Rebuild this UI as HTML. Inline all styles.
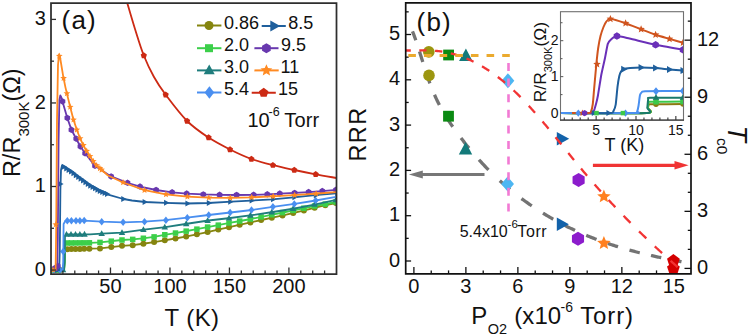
<!DOCTYPE html>
<html><head><meta charset="utf-8"><style>
html,body{margin:0;padding:0;background:#fff;}
body{width:750px;height:336px;overflow:hidden;font-family:"Liberation Sans",sans-serif;}
svg{display:block;}
</style></head><body>
<svg width="750" height="336" viewBox="0 0 750 336" font-family="Liberation Sans, sans-serif">
<rect width="750" height="336" fill="#fff"/>
<defs><clipPath id="ca"><rect x="51" y="3" width="285.5" height="271"/></clipPath></defs>
<g clip-path="url(#ca)">
<path d="M51.5 270 L64 270 L64.6 262 L65 250.5 L66.5 249.2 L90 248.7 L100 248.4 L122 245.8 L132.5 245.2 L143 243.75 L154 242.1 L164.4 240.4 L175.2 238.5 L185.6 236.6 L196.7 234.4 L207.5 232.1 L218 229.6 L229.5 227.1 L240.2 224.6 L250.9 222.3 L261.6 220 L272.3 217.7 L283 215.4 L293.75 212.9 L304.5 210.3 L315.2 207.7 L325.9 205.1 L336 203" fill="none" stroke="#85850f" stroke-width="1.8" stroke-linejoin="round"/>
<circle cx="55" cy="270" r="3" fill="#85850f"/>
<circle cx="60" cy="270" r="3" fill="#85850f"/>
<circle cx="67.3" cy="249.18" r="3" fill="#85850f"/>
<circle cx="71.4" cy="249.1" r="3" fill="#85850f"/>
<circle cx="75.5" cy="249.01" r="3" fill="#85850f"/>
<circle cx="79.9" cy="248.91" r="3" fill="#85850f"/>
<circle cx="84.2" cy="248.82" r="3" fill="#85850f"/>
<circle cx="89.4" cy="248.71" r="3" fill="#85850f"/>
<circle cx="100" cy="248.4" r="3" fill="#85850f"/>
<circle cx="111.3" cy="247.06" r="3" fill="#85850f"/>
<circle cx="122" cy="245.8" r="3" fill="#85850f"/>
<circle cx="132.7" cy="245.17" r="3" fill="#85850f"/>
<circle cx="143.4" cy="243.69" r="3" fill="#85850f"/>
<circle cx="154.1" cy="242.08" r="3" fill="#85850f"/>
<circle cx="164.8" cy="240.33" r="3" fill="#85850f"/>
<circle cx="175.5" cy="238.45" r="3" fill="#85850f"/>
<circle cx="186.2" cy="236.48" r="3" fill="#85850f"/>
<circle cx="196.9" cy="234.36" r="3" fill="#85850f"/>
<circle cx="207.6" cy="232.08" r="3" fill="#85850f"/>
<circle cx="218.3" cy="229.53" r="3" fill="#85850f"/>
<circle cx="229" cy="227.21" r="3" fill="#85850f"/>
<circle cx="239.7" cy="224.72" r="3" fill="#85850f"/>
<circle cx="250.4" cy="222.41" r="3" fill="#85850f"/>
<circle cx="261.1" cy="220.11" r="3" fill="#85850f"/>
<circle cx="271.8" cy="217.81" r="3" fill="#85850f"/>
<circle cx="282.5" cy="215.51" r="3" fill="#85850f"/>
<circle cx="293.2" cy="213.03" r="3" fill="#85850f"/>
<circle cx="303.9" cy="210.45" r="3" fill="#85850f"/>
<circle cx="314.6" cy="207.85" r="3" fill="#85850f"/>
<circle cx="325.3" cy="205.25" r="3" fill="#85850f"/>
<circle cx="336" cy="203" r="3" fill="#85850f"/>
<path d="M51.5 270 L64.2 270 L64.8 262 L65.2 244 L66.5 243 L90 242.8 L100 242.4 L122 240 L132.5 239.4 L143 238.3 L154 236.9 L164.4 234.8 L175.2 233.1 L185.6 231.25 L196.7 229.2 L207.5 227.1 L218 225.2 L229.5 222.9 L240.2 221 L250.9 219 L261.6 216.8 L272.3 214.6 L283 212.5 L293.75 210.3 L304.5 208.1 L315.2 205.9 L325.9 204 L336 202" fill="none" stroke="#3ccf4a" stroke-width="1.8" stroke-linejoin="round"/>
<rect x="50.25" y="267.25" width="5.5" height="5.5" fill="#3ccf4a"/>
<rect x="55.25" y="267.25" width="5.5" height="5.5" fill="#3ccf4a"/>
<rect x="64.55" y="240.24" width="5.5" height="5.5" fill="#3ccf4a"/>
<rect x="68.65" y="240.21" width="5.5" height="5.5" fill="#3ccf4a"/>
<rect x="72.75" y="240.17" width="5.5" height="5.5" fill="#3ccf4a"/>
<rect x="77.15" y="240.14" width="5.5" height="5.5" fill="#3ccf4a"/>
<rect x="81.45" y="240.1" width="5.5" height="5.5" fill="#3ccf4a"/>
<rect x="86.65" y="240.06" width="5.5" height="5.5" fill="#3ccf4a"/>
<rect x="97.25" y="239.65" width="5.5" height="5.5" fill="#3ccf4a"/>
<rect x="108.55" y="238.42" width="5.5" height="5.5" fill="#3ccf4a"/>
<rect x="119.25" y="237.25" width="5.5" height="5.5" fill="#3ccf4a"/>
<rect x="129.95" y="236.63" width="5.5" height="5.5" fill="#3ccf4a"/>
<rect x="140.65" y="235.5" width="5.5" height="5.5" fill="#3ccf4a"/>
<rect x="151.35" y="234.13" width="5.5" height="5.5" fill="#3ccf4a"/>
<rect x="162.05" y="231.99" width="5.5" height="5.5" fill="#3ccf4a"/>
<rect x="172.75" y="230.3" width="5.5" height="5.5" fill="#3ccf4a"/>
<rect x="183.45" y="228.39" width="5.5" height="5.5" fill="#3ccf4a"/>
<rect x="194.15" y="226.41" width="5.5" height="5.5" fill="#3ccf4a"/>
<rect x="204.85" y="224.33" width="5.5" height="5.5" fill="#3ccf4a"/>
<rect x="215.55" y="222.39" width="5.5" height="5.5" fill="#3ccf4a"/>
<rect x="226.25" y="220.25" width="5.5" height="5.5" fill="#3ccf4a"/>
<rect x="236.95" y="218.34" width="5.5" height="5.5" fill="#3ccf4a"/>
<rect x="247.65" y="216.34" width="5.5" height="5.5" fill="#3ccf4a"/>
<rect x="258.35" y="214.15" width="5.5" height="5.5" fill="#3ccf4a"/>
<rect x="269.05" y="211.95" width="5.5" height="5.5" fill="#3ccf4a"/>
<rect x="279.75" y="209.85" width="5.5" height="5.5" fill="#3ccf4a"/>
<rect x="290.45" y="207.66" width="5.5" height="5.5" fill="#3ccf4a"/>
<rect x="301.15" y="205.47" width="5.5" height="5.5" fill="#3ccf4a"/>
<rect x="311.85" y="203.27" width="5.5" height="5.5" fill="#3ccf4a"/>
<rect x="322.55" y="201.36" width="5.5" height="5.5" fill="#3ccf4a"/>
<rect x="333.25" y="199.25" width="5.5" height="5.5" fill="#3ccf4a"/>
<path d="M51.5 270 L64 270 L64.6 262 L65 236 L66.5 234.5 L90 234.3 L101.7 233.7 L122 232.7 L144 229.6 L165.4 227.2 L187 223.75 L208.5 220.5 L230.4 218 L251.8 215.2 L272.9 212 L294.6 208.5 L315.7 204.3 L336 199.8" fill="none" stroke="#1f7d7d" stroke-width="1.8" stroke-linejoin="round"/>
<path d="M56 266.49 L59.25 272.34 L52.75 272.34Z" fill="#1f7d7d"/>
<path d="M63 266.49 L66.25 272.34 L59.75 272.34Z" fill="#1f7d7d"/>
<path d="M66.5 230.99 L69.75 236.84 L63.25 236.84Z" fill="#1f7d7d"/>
<path d="M71 230.95 L74.25 236.8 L67.75 236.8Z" fill="#1f7d7d"/>
<path d="M75.5 230.91 L78.75 236.76 L72.25 236.76Z" fill="#1f7d7d"/>
<path d="M79.9 230.88 L83.15 236.73 L76.65 236.73Z" fill="#1f7d7d"/>
<path d="M84.5 230.84 L87.75 236.69 L81.25 236.69Z" fill="#1f7d7d"/>
<path d="M101.7 230.19 L104.95 236.04 L98.45 236.04Z" fill="#1f7d7d"/>
<path d="M122 229.19 L125.25 235.04 L118.75 235.04Z" fill="#1f7d7d"/>
<path d="M143.4 226.17 L146.65 232.02 L140.15 232.02Z" fill="#1f7d7d"/>
<path d="M164.8 223.76 L168.05 229.61 L161.55 229.61Z" fill="#1f7d7d"/>
<path d="M186.2 220.37 L189.45 226.22 L182.95 226.22Z" fill="#1f7d7d"/>
<path d="M207.6 217.13 L210.85 222.98 L204.35 222.98Z" fill="#1f7d7d"/>
<path d="M229 214.65 L232.25 220.5 L225.75 220.5Z" fill="#1f7d7d"/>
<path d="M250.4 211.87 L253.65 217.72 L247.15 217.72Z" fill="#1f7d7d"/>
<path d="M271.8 208.66 L275.05 214.51 L268.55 214.51Z" fill="#1f7d7d"/>
<path d="M293.2 205.22 L296.45 211.07 L289.95 211.07Z" fill="#1f7d7d"/>
<path d="M314.6 201.01 L317.85 206.86 L311.35 206.86Z" fill="#1f7d7d"/>
<path d="M336 196.29 L339.25 202.14 L332.75 202.14Z" fill="#1f7d7d"/>
<path d="M51.5 270 L62.6 270 L63.2 262 L63.6 224 L65.5 220.8 L84.2 220.6 L101.7 221.7 L123.1 222.3 L144 221.7 L165.4 220.2 L187.1 217.7 L208.5 215 L230.4 212.5 L251.8 210 L272.9 206.8 L294.6 203.9 L315.7 200.5 L336 196.8" fill="none" stroke="#4a8ff0" stroke-width="1.8" stroke-linejoin="round"/>
<path d="M54 266.25 L57 270 L54 273.75 L51 270Z" fill="#4a8ff0"/>
<path d="M60 266.25 L63 270 L60 273.75 L57 270Z" fill="#4a8ff0"/>
<path d="M63.2 247.75 L66.2 251.5 L63.2 255.25 L60.2 251.5Z" fill="#4a8ff0"/>
<path d="M67.3 217.03 L70.3 220.78 L67.3 224.53 L64.3 220.78Z" fill="#4a8ff0"/>
<path d="M71.4 216.99 L74.4 220.74 L71.4 224.49 L68.4 220.74Z" fill="#4a8ff0"/>
<path d="M76 216.94 L79 220.69 L76 224.44 L73 220.69Z" fill="#4a8ff0"/>
<path d="M79.9 216.9 L82.9 220.65 L79.9 224.4 L76.9 220.65Z" fill="#4a8ff0"/>
<path d="M84.2 216.85 L87.2 220.6 L84.2 224.35 L81.2 220.6Z" fill="#4a8ff0"/>
<path d="M101.7 217.95 L104.7 221.7 L101.7 225.45 L98.7 221.7Z" fill="#4a8ff0"/>
<path d="M123.1 218.55 L126.1 222.3 L123.1 226.05 L120.1 222.3Z" fill="#4a8ff0"/>
<path d="M144.5 217.91 L147.5 221.66 L144.5 225.41 L141.5 221.66Z" fill="#4a8ff0"/>
<path d="M165.9 216.39 L168.9 220.14 L165.9 223.89 L162.9 220.14Z" fill="#4a8ff0"/>
<path d="M187.3 213.92 L190.3 217.67 L187.3 221.42 L184.3 217.67Z" fill="#4a8ff0"/>
<path d="M208.7 211.23 L211.7 214.98 L208.7 218.73 L205.7 214.98Z" fill="#4a8ff0"/>
<path d="M230.1 208.78 L233.1 212.53 L230.1 216.28 L227.1 212.53Z" fill="#4a8ff0"/>
<path d="M251.5 206.29 L254.5 210.04 L251.5 213.79 L248.5 210.04Z" fill="#4a8ff0"/>
<path d="M272.9 203.05 L275.9 206.8 L272.9 210.55 L269.9 206.8Z" fill="#4a8ff0"/>
<path d="M294.3 200.19 L297.3 203.94 L294.3 207.69 L291.3 203.94Z" fill="#4a8ff0"/>
<path d="M315.7 196.75 L318.7 200.5 L315.7 204.25 L312.7 200.5Z" fill="#4a8ff0"/>
<path d="M51.5 270 L59.2 270 L59.8 250 L60.4 190 L61 170 L62 165.5 L66 168.2 L71 171.4 L80.6 178.6 L90.1 185.5 L99.6 190.8 L109 194.8 L123.4 199 L132 200.5 L145 202 L165 202.8 L186.7 203.5 L208.3 203 L231.7 201.6 L250.9 200.6 L272.3 199.3 L293.75 197.4 L315.2 195.2 L336 193.3" fill="none" stroke="#1f5f9c" stroke-width="1.8" stroke-linejoin="round"/>
<path d="M60.24 270 L54.84 267 L54.84 273Z" fill="#1f5f9c"/>
<path d="M63.64 184 L58.24 181 L58.24 187Z" fill="#1f5f9c"/>
<path d="M67.24 166.85 L61.84 163.85 L61.84 169.85Z" fill="#1f5f9c"/>
<path d="M69.64 168.46 L64.24 165.46 L64.24 171.46Z" fill="#1f5f9c"/>
<path d="M72.04 169.99 L66.64 166.99 L66.64 172.99Z" fill="#1f5f9c"/>
<path d="M74.44 171.55 L69.04 168.55 L69.04 174.55Z" fill="#1f5f9c"/>
<path d="M76.84 173.35 L71.44 170.35 L71.44 176.35Z" fill="#1f5f9c"/>
<path d="M79.24 175.15 L73.84 172.15 L73.84 178.15Z" fill="#1f5f9c"/>
<path d="M81.64 176.95 L76.24 173.95 L76.24 179.95Z" fill="#1f5f9c"/>
<path d="M84.04 178.75 L78.64 175.75 L78.64 181.75Z" fill="#1f5f9c"/>
<path d="M86.44 180.49 L81.04 177.49 L81.04 183.49Z" fill="#1f5f9c"/>
<path d="M88.84 182.23 L83.44 179.23 L83.44 185.23Z" fill="#1f5f9c"/>
<path d="M91.24 183.97 L85.84 180.97 L85.84 186.97Z" fill="#1f5f9c"/>
<path d="M93.64 185.67 L88.24 182.67 L88.24 188.67Z" fill="#1f5f9c"/>
<path d="M96.04 187.01 L90.64 184.01 L90.64 190.01Z" fill="#1f5f9c"/>
<path d="M98.44 188.35 L93.04 185.35 L93.04 191.35Z" fill="#1f5f9c"/>
<path d="M100.84 189.68 L95.44 186.68 L95.44 192.68Z" fill="#1f5f9c"/>
<path d="M103.24 190.97 L97.84 187.97 L97.84 193.97Z" fill="#1f5f9c"/>
<path d="M105.64 191.99 L100.24 188.99 L100.24 194.99Z" fill="#1f5f9c"/>
<path d="M108.04 193.01 L102.64 190.01 L102.64 196.01Z" fill="#1f5f9c"/>
<path d="M110.44 194.03 L105.04 191.03 L105.04 197.03Z" fill="#1f5f9c"/>
<path d="M126.64 199 L121.24 196 L121.24 202Z" fill="#1f5f9c"/>
<path d="M148.04 201.98 L142.64 198.98 L142.64 204.98Z" fill="#1f5f9c"/>
<path d="M169.44 202.84 L164.04 199.84 L164.04 205.84Z" fill="#1f5f9c"/>
<path d="M190.84 203.48 L185.44 200.48 L185.44 206.48Z" fill="#1f5f9c"/>
<path d="M212.24 202.96 L206.84 199.96 L206.84 205.96Z" fill="#1f5f9c"/>
<path d="M233.64 201.68 L228.24 198.68 L228.24 204.68Z" fill="#1f5f9c"/>
<path d="M255.04 200.55 L249.64 197.55 L249.64 203.55Z" fill="#1f5f9c"/>
<path d="M276.44 199.22 L271.04 196.22 L271.04 202.22Z" fill="#1f5f9c"/>
<path d="M297.84 197.31 L292.44 194.31 L292.44 200.31Z" fill="#1f5f9c"/>
<path d="M319.24 195.13 L313.84 192.13 L313.84 198.13Z" fill="#1f5f9c"/>
<path d="M340.64 193.3 L335.24 190.3 L335.24 196.3Z" fill="#1f5f9c"/>
<path d="M51.5 270 L57.2 270 L57.8 240 L58.6 140 L59.4 100 L60.3 95.5 L61.4 97.5 L62.5 101.5 L67.3 117.9 L71.4 129.8 L76.2 138.7 L80.4 146.5 L85.1 153.3 L94.6 165.5 L111 176.4 L128 183 L140 186.6 L156.1 190 L172.1 192.3 L186.7 193.6 L203.3 194.4 L219.6 194.8 L236.6 195 L253.6 194.8 L267.3 194.3 L279.8 193.6 L294.6 192.9 L308.6 192.1 L322.3 191.1 L336 189.8" fill="none" stroke="#6838ae" stroke-width="1.8" stroke-linejoin="round"/>
<path d="M55 264.75 L52.19 266.38 L52.19 269.62 L55 271.25 L57.81 269.62 L57.81 266.38Z" fill="#6838ae"/>
<path d="M57.8 262.75 L54.99 264.38 L54.99 267.62 L57.8 269.25 L60.61 267.62 L60.61 264.38Z" fill="#6838ae"/>
<path d="M62.5 98.25 L59.69 99.87 L59.69 103.12 L62.5 104.75 L65.31 103.12 L65.31 99.87Z" fill="#6838ae"/>
<path d="M67.3 114.65 L64.49 116.27 L64.49 119.52 L67.3 121.15 L70.11 119.52 L70.11 116.27Z" fill="#6838ae"/>
<path d="M71.4 126.55 L68.59 128.17 L68.59 131.42 L71.4 133.05 L74.21 131.42 L74.21 128.17Z" fill="#6838ae"/>
<path d="M76.2 135.45 L73.39 137.07 L73.39 140.32 L76.2 141.95 L79.01 140.32 L79.01 137.07Z" fill="#6838ae"/>
<path d="M80.4 143.25 L77.59 144.87 L77.59 148.12 L80.4 149.75 L83.21 148.12 L83.21 144.87Z" fill="#6838ae"/>
<path d="M85.1 150.05 L82.29 151.67 L82.29 154.92 L85.1 156.55 L87.91 154.92 L87.91 151.67Z" fill="#6838ae"/>
<path d="M95 162.52 L92.19 164.14 L92.19 167.39 L95 169.02 L97.81 167.39 L97.81 164.14Z" fill="#6838ae"/>
<path d="M111.1 173.19 L108.29 174.81 L108.29 178.06 L111.1 179.69 L113.91 178.06 L113.91 174.81Z" fill="#6838ae"/>
<path d="M127.5 179.56 L124.69 181.18 L124.69 184.43 L127.5 186.06 L130.31 184.43 L130.31 181.18Z" fill="#6838ae"/>
<path d="M140 183.35 L137.19 184.97 L137.19 188.22 L140 189.85 L142.81 188.22 L142.81 184.97Z" fill="#6838ae"/>
<path d="M156.1 186.75 L153.29 188.37 L153.29 191.62 L156.1 193.25 L158.91 191.62 L158.91 188.37Z" fill="#6838ae"/>
<path d="M172.1 189.05 L169.29 190.67 L169.29 193.92 L172.1 195.55 L174.91 193.92 L174.91 190.67Z" fill="#6838ae"/>
<path d="M186.7 190.35 L183.89 191.97 L183.89 195.22 L186.7 196.85 L189.51 195.22 L189.51 191.97Z" fill="#6838ae"/>
<path d="M203.3 191.15 L200.49 192.77 L200.49 196.02 L203.3 197.65 L206.11 196.02 L206.11 192.77Z" fill="#6838ae"/>
<path d="M219.6 191.55 L216.79 193.17 L216.79 196.42 L219.6 198.05 L222.41 196.42 L222.41 193.17Z" fill="#6838ae"/>
<path d="M236.6 191.75 L233.79 193.37 L233.79 196.62 L236.6 198.25 L239.41 196.62 L239.41 193.37Z" fill="#6838ae"/>
<path d="M253.6 191.55 L250.79 193.18 L250.79 196.43 L253.6 198.05 L256.41 196.43 L256.41 193.18Z" fill="#6838ae"/>
<path d="M267.3 191.05 L264.49 192.68 L264.49 195.93 L267.3 197.55 L270.11 195.93 L270.11 192.68Z" fill="#6838ae"/>
<path d="M279.8 190.35 L276.99 191.98 L276.99 195.23 L279.8 196.85 L282.61 195.23 L282.61 191.98Z" fill="#6838ae"/>
<path d="M294.6 189.65 L291.79 191.28 L291.79 194.53 L294.6 196.15 L297.41 194.53 L297.41 191.28Z" fill="#6838ae"/>
<path d="M308.6 188.85 L305.79 190.48 L305.79 193.73 L308.6 195.35 L311.41 193.73 L311.41 190.48Z" fill="#6838ae"/>
<path d="M322.3 187.85 L319.49 189.48 L319.49 192.73 L322.3 194.35 L325.11 192.73 L325.11 189.48Z" fill="#6838ae"/>
<path d="M336 186.55 L333.19 188.18 L333.19 191.43 L336 193.05 L338.81 191.43 L338.81 188.18Z" fill="#6838ae"/>
<path d="M51.5 270 L55.6 270 L56.2 230 L57 120 L58 65 L59 54.5 L60 57 L63.1 75.7 L65.5 87.6 L67.9 97.6 L70.2 107 L73.2 118.8 L76.8 129.8 L80.4 139.2 L85.1 148.6 L95 164 L108 175.5 L123 182.5 L144.5 190.2 L165.9 194.3 L187 196.6 L208.5 197.7 L230.4 197.9 L250.9 197.4 L272.3 196.4 L293.75 195.2 L315.2 193.75 L336 192.1" fill="none" stroke="#ff8a22" stroke-width="1.8" stroke-linejoin="round"/>
<path d="M53 266.5 L52.07 268.73 L49.67 268.92 L51.5 270.49 L50.94 272.83 L53 271.57 L55.06 272.83 L54.5 270.49 L56.33 268.92 L53.93 268.73Z" fill="#ff8a22"/>
<path d="M55.8 221 L54.87 223.23 L52.47 223.42 L54.3 224.99 L53.74 227.33 L55.8 226.07 L57.86 227.33 L57.3 224.99 L59.13 223.42 L56.73 223.23Z" fill="#ff8a22"/>
<path d="M59.3 52.5 L58.37 54.73 L55.97 54.92 L57.8 56.49 L57.24 58.83 L59.3 57.58 L61.36 58.83 L60.8 56.49 L62.63 54.92 L60.23 54.73Z" fill="#ff8a22"/>
<path d="M63.6 74.68 L62.67 76.9 L60.27 77.1 L62.1 78.67 L61.54 81.01 L63.6 79.75 L65.66 81.01 L65.1 78.67 L66.93 77.1 L64.53 76.9Z" fill="#ff8a22"/>
<path d="M66.9 89.93 L65.97 92.16 L63.57 92.35 L65.4 93.92 L64.84 96.26 L66.9 95.01 L68.96 96.26 L68.4 93.92 L70.23 92.35 L67.83 92.16Z" fill="#ff8a22"/>
<path d="M70.2 103.5 L69.27 105.73 L66.87 105.92 L68.7 107.49 L68.14 109.83 L70.2 108.57 L72.26 109.83 L71.7 107.49 L73.53 105.92 L71.13 105.73Z" fill="#ff8a22"/>
<path d="M73.5 116.22 L72.57 118.44 L70.17 118.64 L72 120.2 L71.44 122.55 L73.5 121.29 L75.56 122.55 L75 120.2 L76.83 118.64 L74.43 118.44Z" fill="#ff8a22"/>
<path d="M76.8 126.3 L75.87 128.53 L73.47 128.72 L75.3 130.29 L74.74 132.63 L76.8 131.37 L78.86 132.63 L78.3 130.29 L80.13 128.72 L77.73 128.53Z" fill="#ff8a22"/>
<path d="M80.1 134.92 L79.17 137.14 L76.77 137.34 L78.6 138.9 L78.04 141.25 L80.1 139.99 L82.16 141.25 L81.6 138.9 L83.43 137.34 L81.03 137.14Z" fill="#ff8a22"/>
<path d="M83.4 141.7 L82.47 143.93 L80.07 144.12 L81.9 145.69 L81.34 148.03 L83.4 146.77 L85.46 148.03 L84.9 145.69 L86.73 144.12 L84.33 143.93Z" fill="#ff8a22"/>
<path d="M86.7 147.59 L85.77 149.81 L83.37 150.01 L85.2 151.58 L84.64 153.92 L86.7 152.66 L88.76 153.92 L88.2 151.58 L90.03 150.01 L87.63 149.81Z" fill="#ff8a22"/>
<path d="M90 152.72 L89.07 154.95 L86.67 155.14 L88.5 156.71 L87.94 159.05 L90 157.8 L92.06 159.05 L91.5 156.71 L93.33 155.14 L90.93 154.95Z" fill="#ff8a22"/>
<path d="M93.3 157.86 L92.37 160.08 L89.97 160.27 L91.8 161.84 L91.24 164.19 L93.3 162.93 L95.36 164.19 L94.8 161.84 L96.63 160.27 L94.23 160.08Z" fill="#ff8a22"/>
<path d="M96.6 161.92 L95.67 164.14 L93.27 164.33 L95.1 165.9 L94.54 168.25 L96.6 166.99 L98.66 168.25 L98.1 165.9 L99.93 164.33 L97.53 164.14Z" fill="#ff8a22"/>
<path d="M99.9 164.83 L98.97 167.06 L96.57 167.25 L98.4 168.82 L97.84 171.17 L99.9 169.91 L101.96 171.17 L101.4 168.82 L103.23 167.25 L100.83 167.06Z" fill="#ff8a22"/>
<path d="M101.6 166.34 L100.67 168.56 L98.27 168.76 L100.1 170.33 L99.54 172.67 L101.6 171.41 L103.66 172.67 L103.1 170.33 L104.93 168.76 L102.53 168.56Z" fill="#ff8a22"/>
<path d="M123.05 179.02 L122.12 181.24 L119.72 181.44 L121.55 183 L120.99 185.35 L123.05 184.09 L125.11 185.35 L124.55 183 L126.38 181.44 L123.98 181.24Z" fill="#ff8a22"/>
<path d="M144.5 186.7 L143.57 188.93 L141.17 189.12 L143 190.69 L142.44 193.03 L144.5 191.77 L146.56 193.03 L146 190.69 L147.83 189.12 L145.43 188.93Z" fill="#ff8a22"/>
<path d="M165.95 190.81 L165.02 193.03 L162.62 193.22 L164.45 194.79 L163.89 197.14 L165.95 195.88 L168.01 197.14 L167.45 194.79 L169.28 193.22 L166.88 193.03Z" fill="#ff8a22"/>
<path d="M187.4 193.12 L186.47 195.35 L184.07 195.54 L185.9 197.11 L185.34 199.45 L187.4 198.2 L189.46 199.45 L188.9 197.11 L190.73 195.54 L188.33 195.35Z" fill="#ff8a22"/>
<path d="M208.85 194.2 L207.92 196.43 L205.52 196.62 L207.35 198.19 L206.79 200.53 L208.85 199.28 L210.91 200.53 L210.35 198.19 L212.18 196.62 L209.78 196.43Z" fill="#ff8a22"/>
<path d="M230.3 194.4 L229.37 196.62 L226.97 196.82 L228.8 198.39 L228.24 200.73 L230.3 199.47 L232.36 200.73 L231.8 198.39 L233.63 196.82 L231.23 196.62Z" fill="#ff8a22"/>
<path d="M251.75 193.86 L250.82 196.09 L248.42 196.28 L250.25 197.85 L249.69 200.19 L251.75 198.94 L253.81 200.19 L253.25 197.85 L255.08 196.28 L252.68 196.09Z" fill="#ff8a22"/>
<path d="M273.2 192.85 L272.27 195.08 L269.87 195.27 L271.7 196.84 L271.14 199.18 L273.2 197.92 L275.26 199.18 L274.7 196.84 L276.53 195.27 L274.13 195.08Z" fill="#ff8a22"/>
<path d="M294.65 191.64 L293.72 193.86 L291.32 194.06 L293.15 195.63 L292.59 197.97 L294.65 196.71 L296.71 197.97 L296.15 195.63 L297.98 194.06 L295.58 193.86Z" fill="#ff8a22"/>
<path d="M316.1 190.18 L315.17 192.4 L312.77 192.6 L314.6 194.17 L314.04 196.51 L316.1 195.25 L318.16 196.51 L317.6 194.17 L319.43 192.6 L317.03 192.4Z" fill="#ff8a22"/>
<path d="M127.1 2.5 C128.42 6.92 132.22 20.17 135 29 C137.78 37.83 140.63 47.5 143.8 55.5 C146.97 63.5 150.35 70.45 154 77 C157.65 83.55 160.18 87.47 165.7 94.8 C171.22 102.13 179.95 113.87 187.1 121 C194.25 128.13 201.45 132.85 208.6 137.6 C215.75 142.35 222.87 145.93 230 149.5 C237.13 153.07 244.25 156.38 251.4 159 C258.55 161.62 265.75 163.37 272.9 165.2 C280.05 167.03 287.17 168.48 294.3 170 C301.43 171.52 308.67 172.97 315.7 174.3 C322.73 175.63 333.03 177.38 336.5 178" fill="none" stroke="#cc2a14" stroke-width="1.8" stroke-linejoin="round"/>
<path d="M143.8 52.25 L140.71 54.5 L141.89 58.13 L145.71 58.13 L146.89 54.5Z" fill="#cc2a14"/>
<path d="M165.7 91.55 L162.61 93.8 L163.79 97.43 L167.61 97.43 L168.79 93.8Z" fill="#cc2a14"/>
<path d="M187.1 117.75 L184.01 120 L185.19 123.63 L189.01 123.63 L190.19 120Z" fill="#cc2a14"/>
<path d="M208.6 134.35 L205.51 136.6 L206.69 140.23 L210.51 140.23 L211.69 136.6Z" fill="#cc2a14"/>
<path d="M230 146.25 L226.91 148.5 L228.09 152.13 L231.91 152.13 L233.09 148.5Z" fill="#cc2a14"/>
<path d="M251.4 155.75 L248.31 158 L249.49 161.63 L253.31 161.63 L254.49 158Z" fill="#cc2a14"/>
<path d="M272.9 161.95 L269.81 164.2 L270.99 167.83 L274.81 167.83 L275.99 164.2Z" fill="#cc2a14"/>
<path d="M294.3 166.75 L291.21 169 L292.39 172.63 L296.21 172.63 L297.39 169Z" fill="#cc2a14"/>
<path d="M315.7 171.05 L312.61 173.3 L313.79 176.93 L317.61 176.93 L318.79 173.3Z" fill="#cc2a14"/>
</g>
<path d="M51 3 H336.5 V274 H51 Z" fill="none" stroke="#2e2e2e" stroke-width="1.75"/>
<path d="M51 270.05 h5" stroke="#2e2e2e" stroke-width="1.3"/>
<path d="M51 228.28 h3" stroke="#2e2e2e" stroke-width="1.3"/>
<path d="M51 186.5 h5" stroke="#2e2e2e" stroke-width="1.3"/>
<path d="M51 144.73 h3" stroke="#2e2e2e" stroke-width="1.3"/>
<path d="M51 102.95 h5" stroke="#2e2e2e" stroke-width="1.3"/>
<path d="M51 61.18 h3" stroke="#2e2e2e" stroke-width="1.3"/>
<path d="M51 19.4 h5" stroke="#2e2e2e" stroke-width="1.3"/>
<path d="M62.9 274 v-3.5" stroke="#2e2e2e" stroke-width="1.3"/>
<path d="M74.79 274 v-3.5" stroke="#2e2e2e" stroke-width="1.3"/>
<path d="M86.69 274 v-3.5" stroke="#2e2e2e" stroke-width="1.3"/>
<path d="M98.58 274 v-3.5" stroke="#2e2e2e" stroke-width="1.3"/>
<path d="M110.48 274 v-6.5" stroke="#2e2e2e" stroke-width="1.3"/>
<path d="M122.38 274 v-3.5" stroke="#2e2e2e" stroke-width="1.3"/>
<path d="M134.27 274 v-3.5" stroke="#2e2e2e" stroke-width="1.3"/>
<path d="M146.17 274 v-3.5" stroke="#2e2e2e" stroke-width="1.3"/>
<path d="M158.06 274 v-3.5" stroke="#2e2e2e" stroke-width="1.3"/>
<path d="M169.96 274 v-6.5" stroke="#2e2e2e" stroke-width="1.3"/>
<path d="M181.85 274 v-3.5" stroke="#2e2e2e" stroke-width="1.3"/>
<path d="M193.75 274 v-3.5" stroke="#2e2e2e" stroke-width="1.3"/>
<path d="M205.65 274 v-3.5" stroke="#2e2e2e" stroke-width="1.3"/>
<path d="M217.54 274 v-3.5" stroke="#2e2e2e" stroke-width="1.3"/>
<path d="M229.44 274 v-6.5" stroke="#2e2e2e" stroke-width="1.3"/>
<path d="M241.33 274 v-3.5" stroke="#2e2e2e" stroke-width="1.3"/>
<path d="M253.23 274 v-3.5" stroke="#2e2e2e" stroke-width="1.3"/>
<path d="M265.12 274 v-3.5" stroke="#2e2e2e" stroke-width="1.3"/>
<path d="M277.02 274 v-3.5" stroke="#2e2e2e" stroke-width="1.3"/>
<path d="M288.92 274 v-6.5" stroke="#2e2e2e" stroke-width="1.3"/>
<path d="M300.81 274 v-3.5" stroke="#2e2e2e" stroke-width="1.3"/>
<path d="M312.71 274 v-3.5" stroke="#2e2e2e" stroke-width="1.3"/>
<path d="M324.6 274 v-3.5" stroke="#2e2e2e" stroke-width="1.3"/>
<text x="45.8" y="275.65" font-size="20" text-anchor="end" fill="#111">0</text>
<text x="45.8" y="192.1" font-size="20" text-anchor="end" fill="#111">1</text>
<text x="45.8" y="108.55" font-size="20" text-anchor="end" fill="#111">2</text>
<text x="45.8" y="25" font-size="20" text-anchor="end" fill="#111">3</text>
<text x="110.48" y="293.3" font-size="20" text-anchor="middle" fill="#111">50</text>
<text x="169.96" y="293.3" font-size="20" text-anchor="middle" fill="#111">100</text>
<text x="229.44" y="293.3" font-size="20" text-anchor="middle" fill="#111">150</text>
<text x="288.92" y="293.3" font-size="20" text-anchor="middle" fill="#111">200</text>
<text x="164.4" y="325.7" font-size="24" fill="#111" letter-spacing="0.45">T (K)</text>
<text x="61.6" y="28.6" font-size="26" fill="#111" letter-spacing="1.2">(a)</text>
<g transform="translate(20.1 177.1) rotate(-90)"><text x="0" y="0" font-size="23.5" fill="#111">R/R<tspan font-size="15" dy="8.6">300K</tspan><tspan dy="-8.6">(Ω)</tspan></text></g>
<path d="M197 25.5 H221.4" stroke="#85850f" stroke-width="2"/>
<circle cx="209" cy="25.5" r="4.5" fill="#85850f"/>
<text x="223.9" y="29" font-size="18" fill="#111">0.86</text>
<path d="M197 48.2 H221.4" stroke="#3ccf4a" stroke-width="2"/>
<rect x="205" y="44.2" width="8" height="8" fill="#3ccf4a"/>
<text x="223.9" y="51.4" font-size="18" fill="#111">2.0</text>
<path d="M197 70.4 H221.4" stroke="#1f7d7d" stroke-width="2"/>
<path d="M209.2 64.46 L214.7 74.36 L203.7 74.36Z" fill="#1f7d7d"/>
<text x="223.9" y="72.8" font-size="18" fill="#111">3.0</text>
<path d="M197 92.5 H221.4" stroke="#4a8ff0" stroke-width="2"/>
<path d="M209.4 86.26 L214.2 92.5 L209.4 98.74 L204.6 92.5Z" fill="#4a8ff0"/>
<text x="223.9" y="95" font-size="18" fill="#111">5.4</text>
<path d="M261.7 26 H285.8" stroke="#1f5f9c" stroke-width="2"/>
<path d="M280.24 26 L270.34 20.5 L270.34 31.5Z" fill="#1f5f9c"/>
<text x="288.2" y="29" font-size="18" fill="#111">8.5</text>
<path d="M254.4 48.2 H278.5" stroke="#6838ae" stroke-width="2"/>
<path d="M266.4 43.2 L262.07 45.7 L262.07 50.7 L266.4 53.2 L270.73 50.7 L270.73 45.7Z" fill="#6838ae"/>
<text x="281.1" y="51.4" font-size="18" fill="#111">9.5</text>
<path d="M254.4 70.4 H278.7" stroke="#ff8a22" stroke-width="2"/>
<path d="M266.4 64.15 L264.75 68.12 L260.46 68.47 L263.73 71.27 L262.73 75.46 L266.4 73.21 L270.07 75.46 L269.07 71.27 L272.34 68.47 L268.05 68.12Z" fill="#ff8a22"/>
<text x="280.5" y="72.8" font-size="18" fill="#111">11</text>
<path d="M251.7 92.75 H275.8" stroke="#cc2a14" stroke-width="2"/>
<path d="M263.7 87.75 L258.94 91.2 L260.76 96.8 L266.64 96.8 L268.46 91.2Z" fill="#cc2a14"/>
<text x="278" y="95" font-size="18" fill="#111">15</text>
<text x="247.6" y="126.9" font-size="20" fill="#111" letter-spacing="-0.3">10</text>
<text x="268.6" y="116.2" font-size="12.5" fill="#111">-6</text>
<text x="284.2" y="126.9" font-size="20" fill="#111" letter-spacing="0.2">Torr</text>
<path d="M405.7 261 h5.4" stroke="#111" stroke-width="1.3"/>
<path d="M405.7 238.35 h3.0" stroke="#111" stroke-width="1.3"/>
<path d="M405.7 215.7 h5.4" stroke="#111" stroke-width="1.3"/>
<path d="M405.7 193.05 h3.0" stroke="#111" stroke-width="1.3"/>
<path d="M405.7 170.4 h5.4" stroke="#111" stroke-width="1.3"/>
<path d="M405.7 147.75 h3.0" stroke="#111" stroke-width="1.3"/>
<path d="M405.7 125.1 h5.4" stroke="#111" stroke-width="1.3"/>
<path d="M405.7 102.45 h3.0" stroke="#111" stroke-width="1.3"/>
<path d="M405.7 79.8 h5.4" stroke="#111" stroke-width="1.3"/>
<path d="M405.7 57.15 h3.0" stroke="#111" stroke-width="1.3"/>
<path d="M405.7 34.5 h5.4" stroke="#111" stroke-width="1.3"/>
<path d="M405.7 11.85 h3.0" stroke="#111" stroke-width="1.3"/>
<path d="M413.9 273.8 v-6.8" stroke="#111" stroke-width="1.3"/>
<path d="M431.23 273.8 v-3.4" stroke="#111" stroke-width="1.3"/>
<path d="M448.56 273.8 v-3.4" stroke="#111" stroke-width="1.3"/>
<path d="M465.89 273.8 v-6.8" stroke="#111" stroke-width="1.3"/>
<path d="M483.22 273.8 v-3.4" stroke="#111" stroke-width="1.3"/>
<path d="M500.55 273.8 v-3.4" stroke="#111" stroke-width="1.3"/>
<path d="M517.88 273.8 v-6.8" stroke="#111" stroke-width="1.3"/>
<path d="M535.21 273.8 v-3.4" stroke="#111" stroke-width="1.3"/>
<path d="M552.54 273.8 v-3.4" stroke="#111" stroke-width="1.3"/>
<path d="M569.87 273.8 v-6.8" stroke="#111" stroke-width="1.3"/>
<path d="M587.2 273.8 v-3.4" stroke="#111" stroke-width="1.3"/>
<path d="M604.53 273.8 v-3.4" stroke="#111" stroke-width="1.3"/>
<path d="M621.86 273.8 v-6.8" stroke="#111" stroke-width="1.3"/>
<path d="M639.19 273.8 v-3.4" stroke="#111" stroke-width="1.3"/>
<path d="M656.52 273.8 v-3.4" stroke="#111" stroke-width="1.3"/>
<path d="M673.85 273.8 v-6.8" stroke="#111" stroke-width="1.3"/>
<path d="M691 268.4 h-6.5" stroke="#111" stroke-width="1.3"/>
<path d="M691 249.38 h-3.2" stroke="#111" stroke-width="1.3"/>
<path d="M691 230.36 h-3.2" stroke="#111" stroke-width="1.3"/>
<path d="M691 211.34 h-6.5" stroke="#111" stroke-width="1.3"/>
<path d="M691 192.32 h-3.2" stroke="#111" stroke-width="1.3"/>
<path d="M691 173.3 h-3.2" stroke="#111" stroke-width="1.3"/>
<path d="M691 154.28 h-6.5" stroke="#111" stroke-width="1.3"/>
<path d="M691 135.26 h-3.2" stroke="#111" stroke-width="1.3"/>
<path d="M691 116.24 h-3.2" stroke="#111" stroke-width="1.3"/>
<path d="M691 97.22 h-6.5" stroke="#111" stroke-width="1.3"/>
<path d="M691 78.2 h-3.2" stroke="#111" stroke-width="1.3"/>
<path d="M691 59.18 h-3.2" stroke="#111" stroke-width="1.3"/>
<path d="M691 40.16 h-6.5" stroke="#111" stroke-width="1.3"/>
<path d="M691 21.14 h-3.2" stroke="#111" stroke-width="1.3"/>
<path d="M412.50 31.30 L412.90 32.31 L413.30 33.35 L413.70 34.40 L414.10 35.48 L414.50 36.57 L414.90 37.69 L415.30 38.82 L415.70 39.97 L415.80 40.26 M419.50 51.54 L419.83 52.60 L420.17 53.66 L420.50 54.72 L420.83 55.78 L421.17 56.85 L421.50 57.91 L421.83 58.98 L422.17 60.04 L422.50 61.11 L422.75 61.91 M426.33 73.12 L426.70 74.22 L427.10 75.42 L427.50 76.60 L427.90 77.76 L428.30 78.91 L428.70 80.04 L429.10 81.16 L429.50 82.26 L429.90 83.35 M434.50 94.76 L435.00 95.89 L435.50 97.01 L436.00 98.10 L436.50 99.17 L437.00 100.23 L437.50 101.27 L438.00 102.29 L438.50 103.29 L439.17 104.60 L439.33 104.93 M445.83 116.36 L446.50 117.42 L447.17 118.46 L447.83 119.49 L448.50 120.51 L449.25 121.63 L450.25 123.11 L451.25 124.57 L452.25 126.00 L452.75 126.72 M461.00 137.99 L462.00 139.30 L463.00 140.60 L464.00 141.88 L465.00 143.16 L466.00 144.42 L467.00 145.67 L468.00 146.91 L469.00 148.13 M479.00 159.77 L480.00 160.88 L481.00 161.97 L482.00 163.06 L483.00 164.13 L484.00 165.19 L485.00 166.24 L486.00 167.29 L487.00 168.32 L488.00 169.34 L488.50 169.85 M499.75 180.66 L500.75 181.57 L501.75 182.46 L502.75 183.35 L503.75 184.23 L504.75 185.10 L505.75 185.97 L506.75 186.82 L507.75 187.67 L508.75 188.51 L509.75 189.34 L510.00 189.55 M521.50 198.56 L522.50 199.30 L523.50 200.04 L524.50 200.77 L525.50 201.49 L526.50 202.20 L527.50 202.91 L528.50 203.61 L529.50 204.31 L530.50 205.00 L531.50 205.68 L531.75 205.85 M543.00 213.15 L544.00 213.77 L545.00 214.38 L546.00 214.99 L547.00 215.59 L548.00 216.18 L549.00 216.77 L550.00 217.35 L551.00 217.93 L552.00 218.51 L553.00 219.08 L553.25 219.22 M564.75 225.39 L565.75 225.90 L566.75 226.40 L567.75 226.90 L568.75 227.40 L569.75 227.89 L570.75 228.37 L571.75 228.85 L572.75 229.33 L573.75 229.80 L574.75 230.26 L575.00 230.38 M586.25 235.33 L587.25 235.75 L588.25 236.16 L589.25 236.57 L590.25 236.97 L591.25 237.37 L592.25 237.77 L593.25 238.16 L594.25 238.55 L595.25 238.93 L596.25 239.31 L596.50 239.41 M607.75 243.44 L608.75 243.78 L609.75 244.11 L610.75 244.45 L611.75 244.77 L612.75 245.10 L613.75 245.42 L614.75 245.74 L615.75 246.06 L616.75 246.37 L617.75 246.68 L618.00 246.76 M629.50 250.11 L630.50 250.38 L631.50 250.65 L632.50 250.92 L633.50 251.19 L634.50 251.45 L635.50 251.72 L636.50 251.98 L637.50 252.23 L638.50 252.49 L639.50 252.74 L639.75 252.80 M651.00 255.49 L652.00 255.72 L653.00 255.95 L654.00 256.17 L655.00 256.39 L656.00 256.61 L657.00 256.83 L658.00 257.04 L659.00 257.26 L660.00 257.47 L661.00 257.68 L661.25 257.73 M672.75 260.05 L673.75 260.25 L674.75 260.44 L675.75 260.63 L676.75 260.82 L677.75 261.01 L678.75 261.20 L679.75 261.39 L680.75 261.57 L681.50 261.71 " fill="none" stroke="#737373" stroke-width="3.3" stroke-linecap="butt"/>
<circle cx="428.8" cy="51.9" r="5.8" fill="#9c9610"/>
<circle cx="429" cy="75.4" r="5.8" fill="#9c9610"/>
<rect x="443.2" y="49.6" width="10.8" height="10.8" fill="#0b8a12"/>
<rect x="443.1" y="110.8" width="10.8" height="10.8" fill="#0b8a12"/>
<path d="M465.9 48.6 L472.5 60.9 L459.1 60.9 Z" fill="#137a7a"/>
<path d="M465.6 142.1 L472.2 154.4 L458.8 154.4 Z" fill="#137a7a"/>
<path d="M507.9 73.15 L514.3 80.7 L507.9 88.25 L501.5 80.7Z" fill="#4db6f2"/>
<path d="M507.6 176.45 L514 184 L507.6 191.55 L501.2 184Z" fill="#4db6f2"/>
<path d="M569.2 138.7 L556.8 131.9 L556.8 145.5 Z" fill="#1262aa"/>
<path d="M568.9 224.3 L556.8 217.5 L556.8 231.1 Z" fill="#1262aa"/>
<path d="M578.6 173 L572.54 176.5 L572.54 183.5 L578.6 187 L584.66 183.5 L584.66 176.5Z" fill="#8c1ccc"/>
<path d="M578 231.8 L571.94 235.3 L571.94 242.3 L578 245.8 L584.06 242.3 L584.06 235.3Z" fill="#8c1ccc"/>
<path d="M603.9 189.5 L602.02 194.02 L597.15 194.41 L600.86 197.59 L599.73 202.34 L603.9 199.79 L608.07 202.34 L606.94 197.59 L610.65 194.41 L605.78 194.02Z" fill="#ff8020"/>
<path d="M603.9 236.1 L602.02 240.62 L597.15 241.01 L600.86 244.19 L599.73 248.94 L603.9 246.39 L608.07 248.94 L606.94 244.19 L610.65 241.01 L605.78 240.62Z" fill="#ff8020"/>
<path d="M673.4 261.9 L667.03 266.53 L669.46 274.02 L677.34 274.02 L679.77 266.53Z" fill="#d40000"/>
<path d="M673.4 254.1 L667.03 258.73 L669.46 266.22 L677.34 266.22 L679.77 258.73Z" fill="#d40000"/>
<path d="M405.80 50.50 L406.80 50.51 L407.80 50.51 L408.80 50.51 L409.80 50.50 L410.80 50.49 M419.30 50.40 L420.30 50.39 L421.30 50.39 L422.30 50.39 L423.30 50.39 L424.30 50.39 L425.30 50.40 L426.30 50.42 L426.55 50.42 M435.05 50.80 L436.05 50.89 L437.05 50.98 L438.05 51.08 L439.05 51.19 L440.05 51.32 L441.05 51.45 L442.05 51.60 L442.30 51.64 M450.80 53.33 L451.80 53.58 L452.80 53.84 L453.80 54.12 L454.80 54.40 L455.80 54.70 L456.80 55.00 L457.80 55.32 M466.55 58.55 L467.55 58.98 L468.55 59.41 L469.55 59.85 L470.55 60.31 L471.55 60.78 L472.55 61.25 L473.55 61.74 M482.05 66.34 L483.05 66.93 L484.05 67.54 L485.05 68.15 L486.05 68.78 L487.05 69.42 L488.05 70.07 L489.05 70.73 L489.30 70.89 M497.80 76.97 L498.80 77.73 L499.80 78.51 L500.80 79.30 L501.80 80.10 L502.80 80.91 L503.80 81.74 L504.80 82.57 L505.05 82.78 M513.55 90.34 L514.55 91.28 L515.55 92.24 L516.55 93.20 L517.55 94.18 L518.55 95.17 L519.55 96.16 L520.55 97.17 M528.80 105.86 L529.80 106.96 L530.80 108.06 L531.80 109.17 L532.80 110.29 L533.80 111.41 L534.80 112.55 L535.05 112.83 M542.55 121.54 L543.55 122.73 L544.55 123.92 L545.55 125.11 L546.55 126.31 L547.55 127.51 L548.55 128.72 M555.55 137.26 L556.55 138.49 L557.55 139.72 L558.55 140.95 L559.55 142.18 L560.55 143.42 L561.30 144.35 M568.30 153.00 L569.30 154.23 L570.30 155.47 L571.30 156.70 L572.30 157.93 L573.30 159.15 L574.05 160.07 M581.05 168.57 L582.05 169.77 L583.05 170.97 L584.05 172.16 L585.05 173.34 L586.05 174.53 L587.05 175.70 M594.55 184.39 L595.55 185.53 L596.55 186.66 L597.55 187.79 L598.55 188.92 L599.55 190.04 L600.55 191.16 L600.80 191.44 M608.55 199.96 L609.55 201.04 L610.55 202.12 L611.55 203.19 L612.55 204.26 L613.55 205.33 L614.55 206.39 L615.30 207.19 M623.55 215.79 L624.55 216.82 L625.55 217.84 L626.55 218.86 L627.55 219.87 L628.55 220.89 L629.55 221.90 L630.55 222.90 M639.05 231.33 L640.05 232.30 L641.05 233.28 L642.05 234.25 L643.05 235.22 L644.05 236.18 L645.05 237.14 L646.05 238.10 L646.30 238.34 M654.80 246.37 L655.80 247.31 L656.80 248.24 L657.80 249.17 L658.80 250.09 L659.80 251.01 L660.80 251.93 L661.80 252.85 L662.05 253.08 M670.55 260.79 L671.55 261.68 L672.55 262.58 L673.55 263.47 L674.55 264.36 L675.55 265.25 L676.55 266.14 L677.55 267.02 " fill="none" stroke="#f23434" stroke-width="2.3" stroke-linecap="butt"/>
<path d="M406 55.5 H510.8" stroke="#ebaa2e" stroke-width="2.9" stroke-dasharray="7.6 8.05" stroke-dashoffset="13.35"/>
<path d="M508.5 63 V211.4" stroke="#f27ad4" stroke-width="2.6" stroke-dasharray="8 7.6"/>
<path d="M484.5 174.4 H420" stroke="#777" stroke-width="3"/>
<path d="M408.9 174.4 L422.8 170.5 L422.8 178.5 Z" fill="#777"/>
<path d="M592.9 165.3 H676" stroke="#f03434" stroke-width="3.3"/>
<path d="M688.6 165.3 L674.5 161.1 L674.5 169.4 Z" fill="#f03434"/>
<text x="459.7" y="236.5" font-size="16" fill="#111">5.4x10</text>
<text x="507.6" y="228.2" font-size="11.5" fill="#111">-6</text>
<text x="517.3" y="236.5" font-size="16" fill="#111" letter-spacing="0.6">Torr</text>
<path d="M405.7 2.8 H691 V273.8 H405.7 Z" fill="none" stroke="#111" stroke-width="1.7"/>
<text x="400" y="266.6" font-size="20" text-anchor="end" fill="#111">0</text>
<text x="400" y="221.3" font-size="20" text-anchor="end" fill="#111">1</text>
<text x="400" y="176" font-size="20" text-anchor="end" fill="#111">2</text>
<text x="400" y="130.7" font-size="20" text-anchor="end" fill="#111">3</text>
<text x="400" y="85.4" font-size="20" text-anchor="end" fill="#111">4</text>
<text x="400" y="40.1" font-size="20" text-anchor="end" fill="#111">5</text>
<text x="413.9" y="293.3" font-size="20" text-anchor="middle" fill="#111">0</text>
<text x="465.89" y="293.3" font-size="20" text-anchor="middle" fill="#111">3</text>
<text x="517.88" y="293.3" font-size="20" text-anchor="middle" fill="#111">6</text>
<text x="569.87" y="293.3" font-size="20" text-anchor="middle" fill="#111">9</text>
<text x="621.86" y="293.3" font-size="20" text-anchor="middle" fill="#111">12</text>
<text x="673.85" y="293.3" font-size="20" text-anchor="middle" fill="#111">15</text>
<text x="697" y="274" font-size="20" fill="#111">0</text>
<text x="697" y="216.94" font-size="20" fill="#111">3</text>
<text x="697" y="159.88" font-size="20" fill="#111">6</text>
<text x="697" y="102.82" font-size="20" fill="#111">9</text>
<text x="697" y="45.76" font-size="20" fill="#111">12</text>
<text x="416.6" y="31.2" font-size="26" fill="#111" letter-spacing="1.2">(b)</text>
<g transform="translate(365.9 161.4) rotate(-90)"><text x="0" y="0" font-size="23.5" fill="#111" letter-spacing="1.3">RRR</text></g>
<g transform="translate(727 125.5) rotate(90)"><text x="0" y="-1" font-size="27" font-style="italic" fill="#111">T</text><text x="12.5" y="10.2" font-size="15.5" fill="#111">c0</text></g>
<text x="471.3" y="323.6" font-size="24" fill="#111">P</text>
<text x="487.8" y="334.4" font-size="14.5" fill="#111">O2</text>
<text x="514.2" y="323.6" font-size="24" fill="#111" letter-spacing="0.1">(x10</text>
<text x="560.5" y="311.5" font-size="14" fill="#111">-6</text>
<text x="580.2" y="323.6" font-size="24" fill="#111" letter-spacing="0.9">Torr)</text>
<rect x="560.5" y="11.7" width="123" height="108.4" fill="#fff" stroke="#707070" stroke-width="1.1"/>
<path d="M560 120.1 H684" stroke="#404040" stroke-width="1.3"/>
<path d="M560.5 112.6 h2.8" stroke="#555" stroke-width="1"/>
<path d="M560.5 94.62 h2.0" stroke="#555" stroke-width="1"/>
<path d="M560.5 76.65 h2.8" stroke="#555" stroke-width="1"/>
<path d="M560.5 58.67 h2.0" stroke="#555" stroke-width="1"/>
<path d="M560.5 40.7 h2.8" stroke="#555" stroke-width="1"/>
<path d="M560.5 22.72 h2.0" stroke="#555" stroke-width="1"/>
<path d="M564.27 120.1 v-2.5" stroke="#333" stroke-width="1.1"/>
<path d="M572.24 120.1 v-2.5" stroke="#333" stroke-width="1.1"/>
<path d="M580.21 120.1 v-2.5" stroke="#333" stroke-width="1.1"/>
<path d="M588.18 120.1 v-2.5" stroke="#333" stroke-width="1.1"/>
<path d="M596.15 120.1 v-4" stroke="#333" stroke-width="1.1"/>
<path d="M604.12 120.1 v-2.5" stroke="#333" stroke-width="1.1"/>
<path d="M612.09 120.1 v-2.5" stroke="#333" stroke-width="1.1"/>
<path d="M620.06 120.1 v-2.5" stroke="#333" stroke-width="1.1"/>
<path d="M628.03 120.1 v-2.5" stroke="#333" stroke-width="1.1"/>
<path d="M636 120.1 v-4" stroke="#333" stroke-width="1.1"/>
<path d="M643.97 120.1 v-2.5" stroke="#333" stroke-width="1.1"/>
<path d="M651.94 120.1 v-2.5" stroke="#333" stroke-width="1.1"/>
<path d="M659.91 120.1 v-2.5" stroke="#333" stroke-width="1.1"/>
<path d="M667.88 120.1 v-2.5" stroke="#333" stroke-width="1.1"/>
<path d="M675.85 120.1 v-4" stroke="#333" stroke-width="1.1"/>
<text x="558.5" y="117.6" font-size="14" text-anchor="end" fill="#111">0</text>
<text x="558.5" y="81.25" font-size="14" text-anchor="end" fill="#111">1</text>
<text x="558.5" y="44.9" font-size="14" text-anchor="end" fill="#111">2</text>
<text x="596.15" y="134.8" font-size="14" text-anchor="middle" fill="#111">5</text>
<text x="636" y="134.8" font-size="14" text-anchor="middle" fill="#111">10</text>
<text x="675.85" y="134.8" font-size="14" text-anchor="middle" fill="#111">15</text>
<text x="604.5" y="151" font-size="18" fill="#111">T (K)</text>
<g transform="translate(545.5 102.2) rotate(-90)"><text x="0" y="0" font-size="17.4" fill="#111">R/R<tspan font-size="11" dy="6.5">300K</tspan><tspan dy="-6.5">(Ω)</tspan></text></g>
<defs><clipPath id="ci"><rect x="561" y="12.2" width="122" height="107.4"/></clipPath></defs>
<g clip-path="url(#ci)">
<path d="M561 113.1 C569.6 113.1 638.3 113.61 647 113.1 C655.7 112.59 647.82 108.85 648 108 C648.18 107.15 648.5 104.98 648.8 104.6 C649.1 104.22 647.58 104.25 651 104.2 C654.42 104.15 679.8 104.11 683 104.1" fill="none" stroke="#8a7a10" stroke-width="2" stroke-linejoin="round"/>
<path d="M561 113.1 C569.58 113.1 638.12 113.61 646.8 113.1 C655.48 112.59 647.62 109.09 647.8 108 C647.98 106.91 648.28 102.83 648.6 102.2 C648.92 101.57 647.56 101.76 651 101.7 C654.44 101.64 679.8 101.61 683 101.6" fill="none" stroke="#3cc84a" stroke-width="2" stroke-linejoin="round"/>
<path d="M561 113.1 C569.53 113.1 637.67 113.61 646.3 113.1 C654.93 112.59 647.11 109.42 647.3 108 C647.49 106.58 647.93 99.92 648.2 98.9 C648.47 97.88 646.52 97.92 650 97.8 C653.48 97.68 679.7 97.71 683 97.7" fill="none" stroke="#1a7a6a" stroke-width="2" stroke-linejoin="round"/>
<path d="M561 113.1 C568.4 113.1 627.39 113.25 635 113.1 C642.61 112.95 636.75 112.31 637.1 111.6 C637.45 110.89 638.21 107.66 638.5 106 C638.79 104.34 639.67 96.38 640 95 C640.33 93.62 641.3 92.57 641.8 92.2 C642.3 91.83 640.88 91.42 645 91.3 C649.12 91.18 679.2 91.03 683 91" fill="none" stroke="#4a90f0" stroke-width="2" stroke-linejoin="round"/>
<path d="M588 113.1 C590.3 113.1 608.45 113.31 611 113.1 C613.55 112.89 613.03 111.85 613.5 111 C613.97 110.15 615.3 107.02 615.7 104.6 C616.1 102.18 617.14 89.66 617.5 86.8 C617.86 83.94 618.95 77.53 619.3 76 C619.65 74.47 620.55 72.21 621 71.5 C621.45 70.79 622.85 69.25 623.75 68.9 C624.65 68.55 628.26 68.13 630 68 C631.74 67.87 638.54 67.6 641.1 67.6 C643.66 67.6 652.76 67.81 655.6 68 C658.44 68.19 666.76 69.24 669.5 69.5 C672.24 69.76 681.65 70.49 683 70.6" fill="none" stroke="#1f5f9c" stroke-width="2" stroke-linejoin="round"/>
<path d="M572 113.1 C573.9 113.1 588.86 113.19 591 113.1 C593.14 113.01 592.9 113.11 593.4 112.2 C593.9 111.29 595.55 105.65 596 104 C596.45 102.35 597.36 98.67 597.9 95.7 C598.44 92.73 600.69 78.07 601.4 74.3 C602.11 70.53 604.36 61.04 605 58 C605.64 54.96 607.2 45.75 607.8 43.9 C608.4 42.05 610.09 40.28 611 39.5 C611.91 38.72 615.05 36.19 616.9 36.1 C618.75 36.01 625.63 37.73 629.5 38.6 C633.37 39.47 650.25 43.68 655.6 44.8 C660.95 45.92 680.26 49.3 683 49.8" fill="none" stroke="#6a30b8" stroke-width="2" stroke-linejoin="round"/>
<path d="M572 113.1 C573.7 113.1 587.1 113.25 589 113.1 C590.9 112.95 590.62 112.51 591 111.6 C591.38 110.69 592.47 106.48 592.8 104 C593.13 101.52 593.94 90.84 594.3 86.8 C594.66 82.76 596.01 67.48 596.4 63.6 C596.79 59.72 597.79 50.76 598.2 48 C598.61 45.24 599.97 38.1 600.5 36 C601.03 33.9 602.92 28.44 603.5 27 C604.08 25.56 605.61 22.43 606.3 21.6 C606.99 20.77 608.47 18.54 610.4 18.7 C612.33 18.86 622.53 22.14 625.6 23.2 C628.67 24.26 638.1 28.14 641.1 29.3 C644.1 30.46 652.76 33.84 655.6 34.8 C658.44 35.76 666.76 38.1 669.5 38.9 C672.24 39.7 681.65 42.41 683 42.8" fill="none" stroke="#d0541e" stroke-width="2" stroke-linejoin="round"/>
<path d="M578.3 109.47 L581.2 113.1 L578.3 116.72 L575.4 113.1Z" fill="#4a90f0"/>
<path d="M625.5 109.47 L628.4 113.1 L625.5 116.72 L622.6 113.1Z" fill="#4a90f0"/>
<path d="M656 87.14 L659.25 91.2 L656 95.26 L652.75 91.2Z" fill="#4a90f0"/>
<path d="M683 86.94 L686.25 91 L683 95.06 L679.75 91Z" fill="#4a90f0"/>
<path d="M582.4 109.6 L581.47 111.83 L579.07 112.02 L580.9 113.59 L580.34 115.93 L582.4 114.67 L584.46 115.93 L583.9 113.59 L585.73 112.02 L583.33 111.83Z" fill="#d0541e"/>
<path d="M597 60.2 L595.94 62.74 L593.2 62.96 L595.29 64.76 L594.65 67.44 L597 66 L599.35 67.44 L598.71 64.76 L600.8 62.96 L598.06 62.74Z" fill="#d0541e"/>
<path d="M610.4 14.9 L609.34 17.44 L606.6 17.66 L608.69 19.46 L608.05 22.14 L610.4 20.7 L612.75 22.14 L612.11 19.46 L614.2 17.66 L611.46 17.44Z" fill="#d0541e"/>
<path d="M625.6 19.2 L624.54 21.74 L621.8 21.96 L623.89 23.76 L623.25 26.44 L625.6 25 L627.95 26.44 L627.31 23.76 L629.4 21.96 L626.66 21.74Z" fill="#d0541e"/>
<path d="M641.1 25.3 L640.04 27.84 L637.3 28.06 L639.39 29.86 L638.75 32.54 L641.1 31.1 L643.45 32.54 L642.81 29.86 L644.9 28.06 L642.16 27.84Z" fill="#d0541e"/>
<path d="M655.6 30.8 L654.54 33.34 L651.8 33.56 L653.89 35.36 L653.25 38.04 L655.6 36.6 L657.95 38.04 L657.31 35.36 L659.4 33.56 L656.66 33.34Z" fill="#d0541e"/>
<path d="M669.5 34.9 L668.44 37.44 L665.7 37.66 L667.79 39.46 L667.15 42.14 L669.5 40.7 L671.85 42.14 L671.21 39.46 L673.3 37.66 L670.56 37.44Z" fill="#d0541e"/>
<path d="M683 38.8 L681.94 41.34 L679.2 41.56 L681.29 43.36 L680.65 46.04 L683 44.6 L685.35 46.04 L684.71 43.36 L686.8 41.56 L684.06 41.34Z" fill="#d0541e"/>
<path d="M584.6 110 L581.92 111.55 L581.92 114.65 L584.6 116.2 L587.28 114.65 L587.28 111.55Z" fill="#6a30b8"/>
<path d="M616.9 32.35 L613.65 34.23 L613.65 37.98 L616.9 39.85 L620.15 37.98 L620.15 34.23Z" fill="#6a30b8"/>
<path d="M655.6 41.05 L652.35 42.92 L652.35 46.67 L655.6 48.55 L658.85 46.67 L658.85 42.92Z" fill="#6a30b8"/>
<path d="M683 46.05 L679.75 47.92 L679.75 51.67 L683 53.55 L686.25 51.67 L686.25 47.92Z" fill="#6a30b8"/>
<path d="M597.24 113.1 L591.84 110.1 L591.84 116.1Z" fill="#1f5f9c"/>
<path d="M611.84 113.1 L606.44 110.1 L606.44 116.1Z" fill="#1f5f9c"/>
<path d="M627.48 69.3 L621.18 65.8 L621.18 72.8Z" fill="#1f5f9c"/>
<path d="M644.88 67.6 L638.58 64.1 L638.58 71.1Z" fill="#1f5f9c"/>
<path d="M659.38 68 L653.08 64.5 L653.08 71.5Z" fill="#1f5f9c"/>
<path d="M673.28 69.5 L666.98 66 L666.98 73Z" fill="#1f5f9c"/>
<path d="M686.78 70.6 L680.48 67.1 L680.48 74.1Z" fill="#1f5f9c"/>
<rect x="594.25" y="110.85" width="4.5" height="4.5" fill="#3cc84a"/>
<rect x="620.65" y="110.85" width="4.5" height="4.5" fill="#3cc84a"/>
<circle cx="656" cy="104.3" r="2.75" fill="#8a7a10"/>
<circle cx="683" cy="104.1" r="2.75" fill="#8a7a10"/>
<rect x="653.25" y="99.05" width="5.5" height="5.5" fill="#3cc84a"/>
<rect x="680.25" y="98.85" width="5.5" height="5.5" fill="#3cc84a"/>
<path d="M656 93.89 L659.25 99.74 L652.75 99.74Z" fill="#1a7a6a"/>
<path d="M683 93.89 L686.25 99.74 L679.75 99.74Z" fill="#1a7a6a"/>
</g>
</svg>
</body></html>
